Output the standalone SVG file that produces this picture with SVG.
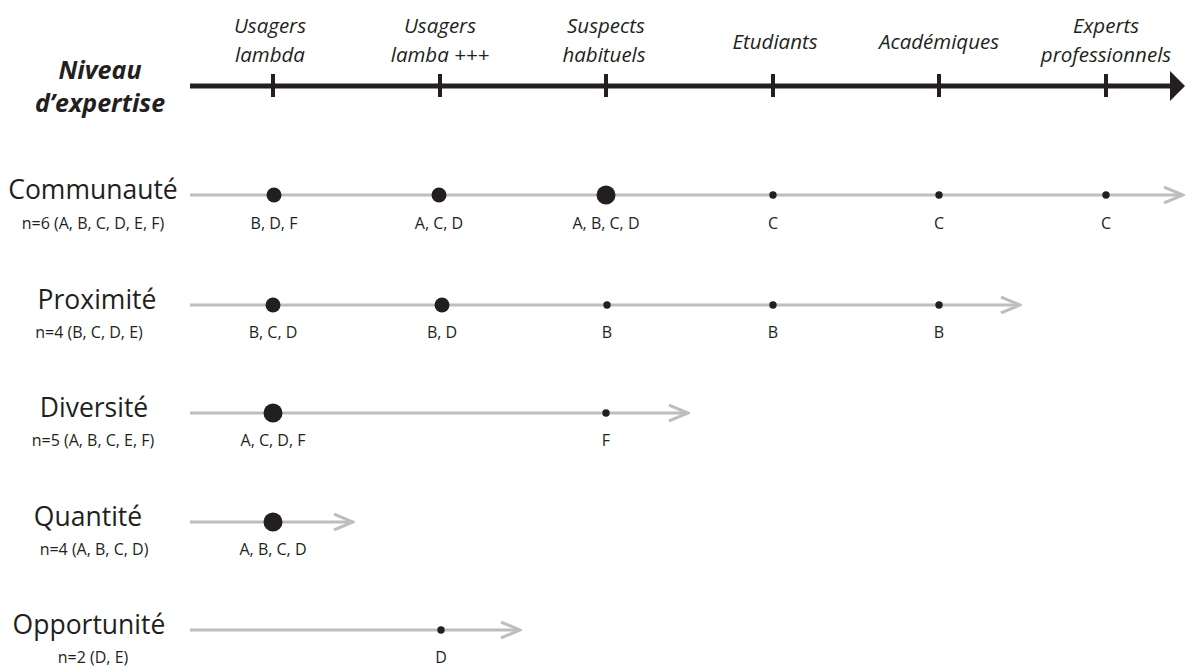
<svg xmlns="http://www.w3.org/2000/svg" width="1185" height="669" viewBox="0 0 1185 669">
<style>
.hdr{font-family:"Open Sans","Liberation Sans",sans-serif;font-style:italic;font-size:20.5px;fill:#231f20;text-anchor:middle}
.ttl{font-family:"Open Sans","Liberation Sans",sans-serif;font-style:italic;font-weight:bold;font-size:25px;fill:#231f20;text-anchor:middle}
.row{font-family:"Open Sans","Liberation Sans",sans-serif;font-size:26.5px;fill:#231f20;text-anchor:middle}
.sub{font-family:"Open Sans","Liberation Sans",sans-serif;font-size:16px;fill:#231f20;text-anchor:middle}
.lbl{font-family:"Open Sans","Liberation Sans",sans-serif;font-size:16px;fill:#231f20;text-anchor:middle}
.gl{stroke:#bebec0;stroke-width:3;fill:none}
.axis{stroke:#231f20;stroke-width:5;fill:none}
.tick{stroke:#231f20;stroke-width:4}
.dot{fill:#231f20}
</style>
<defs>
<marker id="open" viewBox="0 0 22 18" refX="20" refY="9" markerWidth="22" markerHeight="18" markerUnits="userSpaceOnUse" orient="auto">
<path d="M1,1 L20,9 L1,17" fill="none" stroke="#bebec0" stroke-width="3"/>
</marker>
</defs>

<g id="axis">
<line class="axis" x1="190" y1="86" x2="1172" y2="86"/>
<path d="M1170,71 L1185,86 L1170,101 Z" fill="#231f20"/>
<line class="tick" x1="273" y1="74" x2="273" y2="97"/>
<line class="tick" x1="440" y1="74" x2="440" y2="97"/>
<line class="tick" x1="606" y1="74" x2="606" y2="97"/>
<line class="tick" x1="773" y1="74" x2="773" y2="97"/>
<line class="tick" x1="939" y1="74" x2="939" y2="97"/>
<line class="tick" x1="1106" y1="74" x2="1106" y2="97"/>
</g>

<g id="axis-title">
<text class="ttl" x="100" y="79">Niveau</text>
<text class="ttl" x="100" y="112">d’expertise</text>
</g>

<g id="levels">
<text class="hdr" x="270" y="33">Usagers</text>
<text class="hdr" x="270" y="62">lambda</text>
<text class="hdr" x="440" y="33">Usagers</text>
<text class="hdr" x="440" y="62">lamba +++</text>
<text class="hdr" x="606" y="33">Suspects</text>
<text class="hdr" x="604" y="62">habituels</text>
<text class="hdr" x="775" y="49">Etudiants</text>
<text class="hdr" x="939" y="49">Académiques</text>
<text class="hdr" x="1106" y="33">Experts</text>
<text class="hdr" x="1106" y="62">professionnels</text>
</g>

<g id="connectors">
<line class="gl" x1="190" y1="195" x2="1183" y2="195" marker-end="url(#open)"/>
<line class="gl" x1="190" y1="305" x2="1020" y2="305" marker-end="url(#open)"/>
<line class="gl" x1="190" y1="413" x2="688" y2="413" marker-end="url(#open)"/>
<line class="gl" x1="190" y1="522" x2="353" y2="522" marker-end="url(#open)"/>
<line class="gl" x1="190" y1="630" x2="520" y2="630" marker-end="url(#open)"/>
</g>

<g id="row-communaute">
<text class="row" x="93" y="199">Communauté</text>
<text class="sub" x="93" y="229">n=6 (A, B, C, D, E, F)</text>
<circle class="dot" cx="274" cy="195" r="7.5"/>
<text class="lbl" x="274" y="229">B, D, F</text>
<circle class="dot" cx="439" cy="195" r="7.5"/>
<text class="lbl" x="439" y="229">A, C, D</text>
<circle class="dot" cx="606" cy="195" r="9.5"/>
<text class="lbl" x="606" y="229">A, B, C, D</text>
<circle class="dot" cx="773" cy="195" r="3.7"/>
<text class="lbl" x="773" y="229">C</text>
<circle class="dot" cx="939" cy="195" r="3.7"/>
<text class="lbl" x="939" y="229">C</text>
<circle class="dot" cx="1106" cy="195" r="3.7"/>
<text class="lbl" x="1106" y="229">C</text>
</g>

<g id="row-proximite">
<text class="row" x="97" y="309">Proximité</text>
<text class="sub" x="89" y="338">n=4 (B, C, D, E)</text>
<circle class="dot" cx="273" cy="305" r="7.5"/>
<text class="lbl" x="273" y="338">B, C, D</text>
<circle class="dot" cx="442" cy="305" r="7.5"/>
<text class="lbl" x="442" y="338">B, D</text>
<circle class="dot" cx="607" cy="305" r="3.7"/>
<text class="lbl" x="607" y="338">B</text>
<circle class="dot" cx="773" cy="305" r="3.7"/>
<text class="lbl" x="773" y="338">B</text>
<circle class="dot" cx="939" cy="305" r="3.7"/>
<text class="lbl" x="939" y="338">B</text>
</g>

<g id="row-diversite">
<text class="row" x="94" y="417">Diversité</text>
<text class="sub" x="93" y="446">n=5 (A, B, C, E, F)</text>
<circle class="dot" cx="273" cy="413" r="9.5"/>
<text class="lbl" x="273" y="446">A, C, D, F</text>
<circle class="dot" cx="606" cy="413" r="3.7"/>
<text class="lbl" x="606" y="446">F</text>
</g>

<g id="row-quantite">
<text class="row" x="88" y="526">Quantité</text>
<text class="sub" x="94" y="555">n=4 (A, B, C, D)</text>
<circle class="dot" cx="273" cy="522" r="9.5"/>
<text class="lbl" x="273" y="555">A, B, C, D</text>
</g>

<g id="row-opportunite">
<text class="row" x="89" y="634">Opportunité</text>
<text class="sub" x="93" y="663">n=2 (D, E)</text>
<circle class="dot" cx="441" cy="630" r="3.7"/>
<text class="lbl" x="441" y="663">D</text>
</g>
</svg>
